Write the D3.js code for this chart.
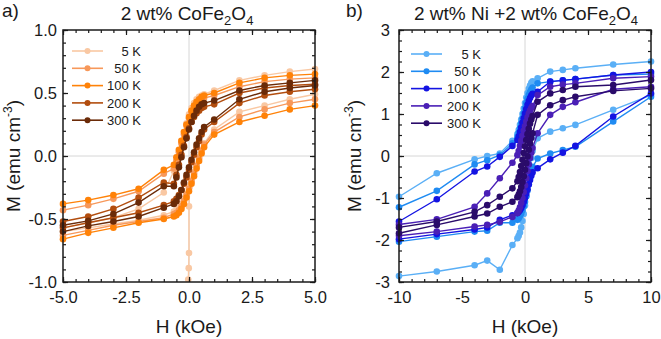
<!DOCTYPE html>
<html>
<head>
<meta charset="utf-8">
<script src="https://cdn.jsdelivr.net/npm/d3@7"></script>
<style>
body { margin: 0; background: #fff; }
text { font-family: Arial, "Liberation Sans", sans-serif; fill: #1a1a1a; }
</style>
</head>
<body>
<div id="chart"></div>
<script>
var tempLabels = ["5 K", "50 K", "100 K", "200 K", "300 K"];

// panel a: 2 wt% CoFe2O4
var colorsA = ["#f9c8a3", "#f7985a", "#ff8208", "#b24d0e", "#6b2b08"];
var hA = [-5, -4, -3, -2, -1, -0.6, -0.5, -0.4, -0.3, -0.2, -0.1, 0, 0.1, 0.2, 0.3, 0.4, 0.5, 0.6, 1, 2, 3, 4, 5];
var downA = [
  [-0.57, -0.53, -0.49, -0.42, -0.29, -0.12, -0.04, 0.04, 0.12, 0.19, 0.26, 0.33, 0.38, 0.42, 0.45, 0.47, 0.48, 0.49, 0.52, 0.60, 0.64, 0.67, 0.69],
  [-0.43, -0.39, -0.34, -0.28, -0.14, -0.10, -0.04, 0.03, 0.10, 0.17, 0.24, 0.30, 0.35, 0.39, 0.42, 0.44, 0.45, 0.46, 0.48, 0.55, 0.59, 0.61, 0.62],
  [-0.38, -0.35, -0.31, -0.26, -0.11, -0.07, -0.01, 0.05, 0.12, 0.19, 0.25, 0.31, 0.36, 0.40, 0.43, 0.45, 0.47, 0.48, 0.50, 0.58, 0.62, 0.64, 0.65],
  [-0.52, -0.48, -0.42, -0.33, -0.21, -0.22, -0.15, -0.07, 0.01, 0.08, 0.15, 0.22, 0.27, 0.31, 0.34, 0.36, 0.38, 0.39, 0.41, 0.50, 0.54, 0.56, 0.57],
  [-0.55, -0.515, -0.46, -0.37, -0.24, -0.24, -0.17, -0.09, -0.01, 0.07, 0.14, 0.21, 0.27, 0.32, 0.36, 0.39, 0.41, 0.42, 0.44, 0.52, 0.56, 0.58, 0.60]
];
var upA = [
  [-0.60, -0.57, -0.54, -0.51, -0.47, -0.44, -0.43, -0.41, -0.38, -0.34, -0.30, -0.25, -0.19, -0.13, -0.07, -0.01, 0.05, 0.10, 0.21, 0.35, 0.40, 0.45, 0.49],
  [-0.63, -0.59, -0.55, -0.52, -0.49, -0.46, -0.45, -0.43, -0.40, -0.36, -0.31, -0.26, -0.20, -0.14, -0.08, -0.02, 0.04, 0.09, 0.19, 0.31, 0.37, 0.42, 0.45],
  [-0.66, -0.61, -0.57, -0.53, -0.50, -0.48, -0.47, -0.45, -0.42, -0.38, -0.33, -0.28, -0.22, -0.16, -0.10, -0.04, 0.02, 0.07, 0.17, 0.27, 0.32, 0.37, 0.40],
  [-0.57, -0.53, -0.49, -0.45, -0.39, -0.36, -0.34, -0.31, -0.27, -0.22, -0.17, -0.11, -0.05, 0.01, 0.07, 0.12, 0.17, 0.21, 0.27, 0.42, 0.48, 0.51, 0.53],
  [-0.60, -0.555, -0.52, -0.48, -0.41, -0.38, -0.36, -0.32, -0.27, -0.21, -0.15, -0.09, -0.03, 0.03, 0.09, 0.14, 0.19, 0.23, 0.29, 0.45, 0.51, 0.54, 0.56]
];
// 5 K extra segment dropping at H = 0
var dropH = [0.03, 0.0, 0.0, -0.01, -0.03, -0.05];
var dropM = [-0.24, -0.40, -0.77, -0.89, -0.98, -1.10];

// panel b: 2 wt% Ni + 2 wt% CoFe2O4
var colorsB = ["#5aaff6", "#1f8bf2", "#1414e2", "#4a1fb6", "#2a0b6a"];
var hB = [-10, -7, -4, -3, -2, -1, -0.6, -0.5, -0.4, -0.3, -0.2, -0.1, 0, 0.1, 0.2, 0.3, 0.4, 0.5, 0.6, 1, 2, 3, 4, 7, 10];
var upperB = [
  [-0.97, -0.41, -0.08, 0.00, 0.06, 0.36, 0.52, 0.62, 0.74, 0.87, 1.00, 1.13, 1.26, 1.39, 1.50, 1.60, 1.68, 1.74, 1.78, 1.85, 2.01, 2.05, 2.09, 2.18, 2.25],
  [-1.22, -0.83, -0.20, -0.10, 0.02, 0.30, 0.45, 0.55, 0.66, 0.78, 0.90, 1.02, 1.14, 1.26, 1.36, 1.45, 1.52, 1.58, 1.63, 1.73, 1.77, 1.80, 1.83, 1.93, 1.95],
  [-1.56, -1.03, -0.37, -0.25, -0.02, 0.24, 0.38, 0.47, 0.57, 0.68, 0.79, 0.90, 1.01, 1.12, 1.22, 1.31, 1.38, 1.44, 1.48, 1.53, 1.77, 1.80, 1.83, 1.93, 2.00],
  [-1.63, -1.51, -1.21, -0.89, -0.53, -0.16, 0.02, 0.12, 0.24, 0.36, 0.48, 0.60, 0.71, 0.82, 0.92, 1.01, 1.08, 1.14, 1.19, 1.45, 1.65, 1.70, 1.73, 1.85, 1.89],
  [-1.70, -1.56, -1.33, -1.17, -0.97, -0.77, -0.60, -0.50, -0.38, -0.24, -0.09, 0.07, 0.23, 0.38, 0.52, 0.65, 0.77, 0.87, 0.95, 1.29, 1.49, 1.57, 1.65, 1.69, 1.81]
];
var lowerB = [
  [-2.86, -2.75, -2.60, -2.49, -2.71, -2.12, -1.96, -1.90, -1.82, -1.70, -1.55, -1.38, -1.18, -0.96, -0.72, -0.48, -0.25, -0.05, 0.12, 0.42, 0.58, 0.66, 0.74, 1.10, 1.45],
  [-2.04, -1.92, -1.80, -1.78, -1.59, -1.59, -1.52, -1.48, -1.43, -1.37, -1.29, -1.20, -1.09, -0.96, -0.82, -0.67, -0.52, -0.38, -0.26, -0.06, 0.06, 0.14, 0.22, 0.82, 1.41],
  [-1.98, -1.86, -1.75, -1.70, -1.52, -1.41, -1.36, -1.33, -1.29, -1.24, -1.17, -1.09, -1.00, -0.90, -0.79, -0.68, -0.57, -0.47, -0.39, -0.29, -0.08, 0.08, 0.24, 0.94, 1.49],
  [-1.90, -1.80, -1.68, -1.64, -1.57, -1.45, -1.36, -1.30, -1.22, -1.12, -1.00, -0.86, -0.70, -0.53, -0.36, -0.20, -0.05, 0.08, 0.19, 0.54, 0.98, 1.17, 1.28, 1.59, 1.65],
  [-1.84, -1.64, -1.44, -1.37, -1.21, -1.09, -0.98, -0.92, -0.84, -0.74, -0.62, -0.48, -0.33, -0.17, -0.01, 0.15, 0.30, 0.43, 0.54, 0.98, 1.21, 1.33, 1.41, 1.55, 1.61]
];

var svg = d3.select("#chart").append("svg")
  .attr("width", 661)
  .attr("height", 339);

function toPoints(hs, ms) {
  return hs.map(function(h, i) { return [h, ms[i]]; });
}

function drawPanel(p) {
  var x = d3.scaleLinear().domain(p.xDomain).range([p.left, p.right]);
  var y = d3.scaleLinear().domain(p.yDomain).range([282, 30]);
  var g = svg.append("g");

  // zero lines
  g.append("line").attr("x1", x(0)).attr("x2", x(0)).attr("y1", 30).attr("y2", 282)
    .attr("stroke", "#d6d6d6").attr("stroke-width", 1);
  g.append("line").attr("x1", p.left).attr("x2", p.right).attr("y1", y(0)).attr("y2", y(0))
    .attr("stroke", "#d6d6d6").attr("stroke-width", 1);

  var clipId = "clip" + p.id;
  svg.append("clipPath").attr("id", clipId).append("rect")
    .attr("x", p.left - 5).attr("y", 30)
    .attr("width", p.right - p.left + 10).attr("height", 252);

  var line = d3.line()
    .x(function(d) { return x(d[0]); })
    .y(function(d) { return y(d[1]); });

  var plot = g.append("g").attr("clip-path", "url(#" + clipId + ")");
  p.series.forEach(function(s) {
    var sg = plot.append("g");
    sg.append("path").datum(s.pts)
      .attr("d", line)
      .attr("fill", "none")
      .attr("stroke", s.color)
      .attr("stroke-width", 1.4);
    sg.selectAll("circle").data(s.pts).enter().append("circle")
      .attr("cx", function(d) { return x(d[0]); })
      .attr("cy", function(d) { return y(d[1]); })
      .attr("r", 3.3)
      .attr("fill", s.color);
  });

  // axes, ticks pointing inward on all sides
  function axis(fn, scale, vals, size, pad, fmt, tx, ty) {
    var a = g.append("g").attr("transform", "translate(" + tx + "," + ty + ")")
      .call(fn(scale).tickValues(vals).tickSize(size).tickPadding(pad).tickFormat(fmt));
    a.select(".domain").remove();
    a.selectAll("line").attr("stroke", "#1a1a1a").attr("stroke-width", 1.2);
    a.selectAll("text").attr("font-size", "16.5px").attr("fill", "#1a1a1a")
      .attr("font-family", "Arial, 'Liberation Sans', sans-serif");
    return a;
  }
  var none = function() { return ""; };
  axis(d3.axisBottom, x, p.xMinor, -3, 0, none, 0, 282);
  axis(d3.axisTop, x, p.xMinor, -3, 0, none, 0, 30);
  axis(d3.axisLeft, y, p.yMinor, -3, 0, none, p.left, 0);
  axis(d3.axisRight, y, p.yMinor, -3, 0, none, p.right, 0);
  axis(d3.axisBottom, x, p.xMajor, -5, 9, p.xFmt, 0, 282);
  axis(d3.axisTop, x, p.xMajor, -5, 0, none, 0, 30);
  axis(d3.axisLeft, y, p.yMajor, -5, p.yPad, p.yFmt, p.left, 0);
  axis(d3.axisRight, y, p.yMajor, -5, 0, none, p.right, 0);

  g.append("rect").attr("x", p.left).attr("y", 30)
    .attr("width", p.right - p.left).attr("height", 252)
    .attr("fill", "none").attr("stroke", "#1a1a1a").attr("stroke-width", 1.5);

  // title with subscripts
  var t = g.append("text").attr("x", p.titleX).attr("y", 20)
    .attr("text-anchor", "middle").attr("font-size", "19px");
  t.append("tspan").text(p.titleText + "CoFe");
  t.append("tspan").attr("font-size", "13px").attr("dy", 5).text("2");
  t.append("tspan").attr("dy", -5).text("O");
  t.append("tspan").attr("font-size", "13px").attr("dy", 5).text("4");

  g.append("text").attr("x", p.letterX).attr("y", 17).attr("font-size", "19px").text(p.letter);

  // axis titles
  g.append("text").attr("x", (p.left + p.right) / 2).attr("y", 333)
    .attr("text-anchor", "middle").attr("font-size", "19px").text("H (kOe)");
  var yl = g.append("text")
    .attr("transform", "translate(" + p.yLabelX + ",156) rotate(-90)")
    .attr("text-anchor", "middle").attr("font-size", "19px");
  yl.append("tspan").text("M (emu cm");
  yl.append("tspan").attr("font-size", "12px").attr("dy", -8).text("-3");
  yl.append("tspan").attr("dy", 8).text(")");

  // legend
  var lg = g.append("g");
  tempLabels.forEach(function(lab, i) {
    var ly = p.legY + i * 17.3;
    lg.append("line").attr("x1", p.legX).attr("x2", p.legX + 31)
      .attr("y1", ly).attr("y2", ly)
      .attr("stroke", p.colors[i]).attr("stroke-width", 1.6);
    lg.append("circle").attr("cx", p.legX + 15.5).attr("cy", ly).attr("r", 3)
      .attr("fill", p.colors[i]);
    lg.append("text").attr("x", p.legTextX).attr("y", ly).attr("dy", "0.36em")
      .attr("text-anchor", "end").attr("font-size", "13px").text(lab);
  });
}

var seriesA = [];
colorsA.forEach(function(c, i) {
  seriesA.push({ color: c, pts: toPoints(hA, upA[i]) });
  seriesA.push({ color: c, pts: toPoints(hA, downA[i]) });
  if (i === 0) seriesA.push({ color: c, pts: toPoints(dropH, dropM) });
});

var seriesB = [];
colorsB.forEach(function(c, i) {
  seriesB.push({ color: c, pts: toPoints(hB, lowerB[i]) });
  seriesB.push({ color: c, pts: toPoints(hB, upperB[i]) });
});

drawPanel({
  id: "a", left: 63, right: 315,
  xDomain: [-5, 5], yDomain: [-1, 1],
  xMajor: [-5, -2.5, 0, 2.5, 5], xMinor: d3.range(-5, 5.01, 0.5),
  yMajor: [-1, -0.5, 0, 0.5, 1], yMinor: d3.range(-10, 10.1, 1).map(function(d) { return d / 10; }),
  xFmt: function(d) { return d.toFixed(1); }, yFmt: function(d) { return d.toFixed(1); },
  yPad: 6, titleX: 187, titleText: "2 wt% ", letter: "a)", letterX: 2, yLabelX: 20,
  legX: 72, legY: 51, legTextX: 141, colors: colorsA, series: seriesA
});

drawPanel({
  id: "b", left: 399, right: 651,
  xDomain: [-10, 10], yDomain: [-3, 3],
  xMajor: [-10, -5, 0, 5, 10], xMinor: d3.range(-10, 10.1, 1),
  yMajor: [-3, -2, -1, 0, 1, 2, 3], yMinor: d3.range(-12, 12.1, 1).map(function(d) { return d / 4; }),
  xFmt: function(d) { return String(d); }, yFmt: function(d) { return String(d); },
  yPad: 9, titleX: 526, titleText: "2 wt% Ni +2 wt% ", letter: "b)", letterX: 346, yLabelX: 361,
  legX: 411, legY: 54, legTextX: 481, colors: colorsB, series: seriesB
});
</script>
</body>
</html>
